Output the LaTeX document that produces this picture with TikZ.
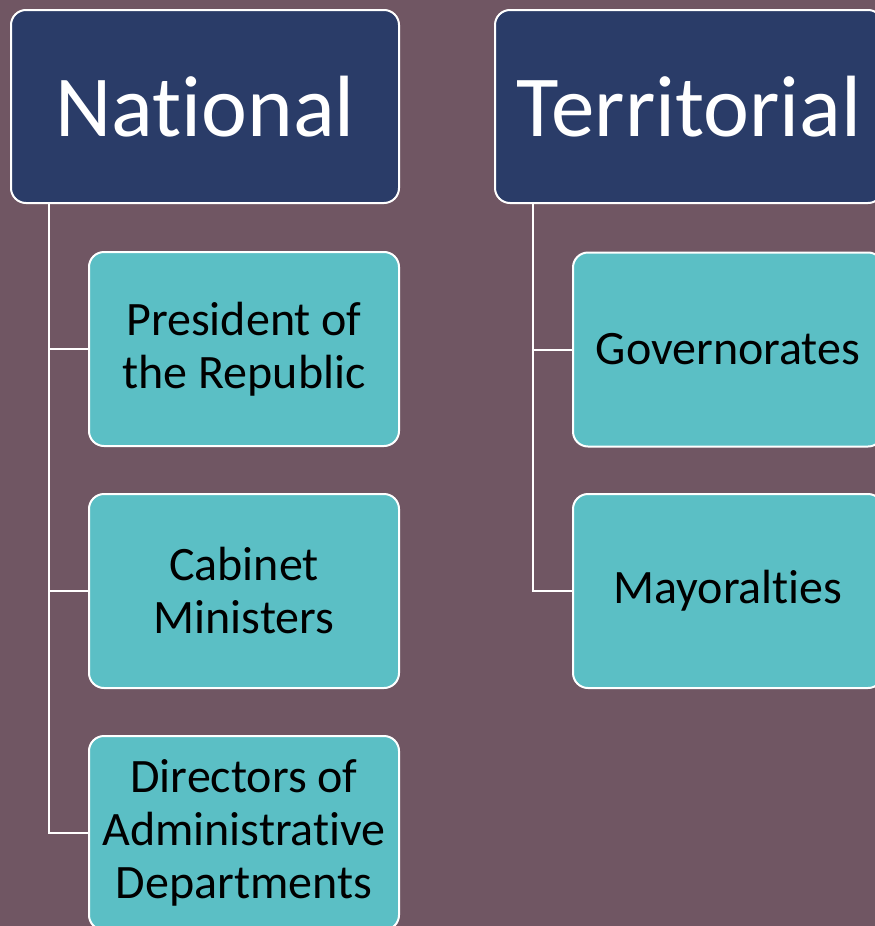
\documentclass[tikz,border=0pt]{standalone}
\usepackage{fontspec}
\setmainfont{Carlito}[Ligatures={NoCommon,NoContextual},RawFeature={-liga;-clig;-calt;-dlig}]
\definecolor{bgc}{RGB}{112,86,99}
\definecolor{darkbox}{RGB}{42,60,104}
\definecolor{tealbox}{RGB}{91,191,197}
\tikzset{
  parentbox/.style={draw=white, line width=2pt, fill=darkbox, rounded corners=15pt,
    minimum height=193pt, minimum width=388pt, text=white, font=\fontsize{87}{104}\selectfont, inner sep=0pt},
  childbox/.style={draw=white, line width=2pt, fill=tealbox, rounded corners=15pt,
    minimum height=194pt, minimum width=310pt, text=black, align=center, font=\fontsize{48}{53}\selectfont, inner sep=0pt},
  conn/.style={draw=white, line width=2pt}
}
\begin{document}
\begin{tikzpicture}[x=1pt,y=-1pt]
\useasboundingbox (0,0) rectangle (875,926);
\clip (0,0) rectangle (875,926);
\fill[bgc] (0,0) rectangle (875,926);
\node[parentbox] (nat) at (205,106.5) {National};
\node[parentbox] (ter) at (689,106.5) {Territorial};
\node[childbox] (pres) at (244,349) {President of\\the Republic};
\node[childbox] (cab) at (244,591) {Cabinet\\Ministers};
\node[childbox] (dir) at (244,833) {Directors of\\Administrative\\Departments};
\node[childbox] (gov) at (728,349.5) {Governorates};
\node[childbox] (may) at (728,591) {Mayoralties};
\draw[conn] ([xshift=39pt]nat.south west) |- (pres.west);
\draw[conn] ([xshift=39pt]nat.south west) |- (cab.west);
\draw[conn] ([xshift=39pt]nat.south west) |- (dir.west);
\draw[conn] ([xshift=39pt]ter.south west) |- (gov.west);
\draw[conn] ([xshift=39pt]ter.south west) |- (may.west);
\end{tikzpicture}
\end{document}
